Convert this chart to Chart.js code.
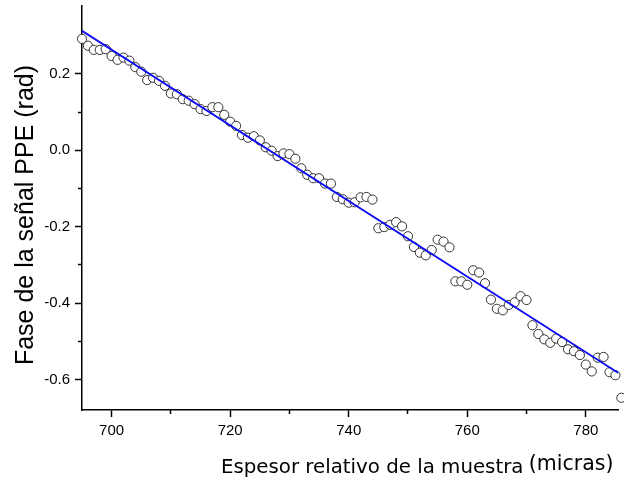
<!DOCTYPE html>
<html>
<head>
<meta charset="utf-8">
<script src="https://cdn.jsdelivr.net/npm/chart.js@4.4.0/dist/chart.umd.min.js"></script>
<style>
  html, body { margin: 0; padding: 0; background: #fff; }
  #wrap { width: 624px; height: 481px; }
</style>
</head>
<body>
<div id="wrap"><canvas id="myChart" width="624" height="481"></canvas></div>
<script>
// espesor relativo (micras), un punto por micra
const espesor = [
  695, 696, 697, 698, 699, 700, 701, 702, 703, 704, 705, 706, 707, 708, 709,
  710, 711, 712, 713, 714, 715, 716, 717, 718, 719, 720, 721, 722, 723, 724,
  725, 726, 727, 728, 729, 730, 731, 732, 733, 734, 735, 736, 737, 738, 739,
  740, 741, 742, 743, 744, 745, 746, 747, 748, 749, 750, 751, 752, 753, 754,
  755, 756, 757, 758, 759, 760, 761, 762, 763, 764, 765, 766, 767, 768, 769,
  770, 771, 772, 773, 774, 775, 776, 777, 778, 779, 780, 781, 782, 783, 784,
  785, 786
];

// fase de la señal PPE medida (rad)
const fase = [
  0.292, 0.274, 0.263, 0.263, 0.265, 0.247, 0.237, 0.243, 0.235, 0.218, 0.206, 0.184, 0.190, 0.182, 0.169,
  0.149, 0.147, 0.134, 0.130, 0.121, 0.108, 0.103, 0.113, 0.113, 0.093, 0.075, 0.064, 0.040, 0.033, 0.037,
  0.026, 0.008, -0.001, -0.015, -0.008, -0.010, -0.022, -0.047, -0.064, -0.073, -0.073, -0.087, -0.087, -0.122, -0.128,
  -0.137, -0.136, -0.123, -0.122, -0.129, -0.204, -0.201, -0.195, -0.188, -0.199, -0.225, -0.253, -0.268, -0.275, -0.261,
  -0.234, -0.239, -0.254, -0.343, -0.343, -0.352, -0.314, -0.320, -0.348, -0.391, -0.415, -0.419, -0.405, -0.398, -0.382,
  -0.392, -0.458, -0.481, -0.495, -0.504, -0.493, -0.502, -0.521, -0.526, -0.536, -0.561, -0.579, -0.543, -0.541, -0.581,
  -0.589, -0.648
];

// recta de ajuste lineal
const ajusteX = [695, 785.5];
const ajusteY = [0.313, -0.583];

// marcas de los ejes
const ticksX = [700, 720, 740, 760, 780];
const ticksXMenor = [710, 730, 750, 770];
const ticksY = [-0.6, -0.4, -0.2, 0.0, 0.2];
const ticksYMenor = [-0.5, -0.3, -0.1, 0.1];

const fuenteTicks = { family: "'Liberation Sans', Arial, sans-serif", size: 15 };

function fijarTicks(valores) {
  return (scale) => {
    scale.ticks = valores.map((v) => ({ value: v }));
  };
}

// tamaño fijo de cada eje, sin el relleno extra que Chart.js deja para las etiquetas
function fijarTamano(prop, valor) {
  return (scale) => {
    scale[prop] = valor;
    scale.paddingTop = 0;
    scale.paddingBottom = 0;
    scale.paddingLeft = 0;
    scale.paddingRight = 0;
  };
}

// titulos de los ejes
const titulos = {
  id: "titulos",
  afterDraw(chart) {
    const { ctx, chartArea } = chart;
    ctx.save();
    ctx.fillStyle = "#000";
    ctx.textBaseline = "alphabetic";
    ctx.textAlign = "right";
    ctx.font = "19.8px 'DejaVu Sans'";
    ctx.fillText("Espesor relativo de la muestra", chartArea.right - 95, chartArea.bottom + 63);
    ctx.font = "20.5px 'DejaVu Sans'";
    ctx.fillText("(micras)", chartArea.right - 5, chartArea.bottom + 59.5);

    ctx.translate(33, (chartArea.top + chartArea.bottom) / 2 + 7);
    ctx.rotate(-Math.PI / 2);
    ctx.textAlign = "center";
    ctx.font = "25px 'Liberation Sans', Arial, sans-serif";
    ctx.fillText("Fase de la señal PPE (rad)", 0, 0);
    ctx.restore();
  },
};

const ctx = document.getElementById("myChart");
new Chart(ctx, {
  type: "scatter",
  data: {
    datasets: [
      {
        type: "line",
        label: "Ajuste",
        data: ajusteX.map((x, i) => ({ x: x, y: ajusteY[i] })),
        borderColor: "#0b0bf5",
        borderWidth: 1.8,
        pointRadius: 0,
        fill: false,
      },
      {
        label: "Fase",
        data: espesor.map((x, i) => ({ x: x, y: fase[i] })),
        pointRadius: 4.6,
        pointBorderWidth: 1,
        pointBorderColor: "#333",
        pointBackgroundColor: "#fff",
        clip: false,
      },
    ],
  },
  options: {
    responsive: false,
    devicePixelRatio: 1,
    animation: false,
    layout: { padding: { top: 6, right: 0, bottom: 0, left: 0 } },
    plugins: {
      legend: { display: false },
      tooltip: { enabled: false },
    },
    scales: {
      x: {
        type: "linear",
        position: "bottom",
        min: 695,
        max: 785.5,
        weight: 1,
        afterBuildTicks: fijarTicks(ticksX),
        afterFit: fijarTamano("height", 71),
        grid: { drawOnChartArea: false, drawTicks: true, tickLength: 7, tickColor: "#000", tickWidth: 1.5 },
        border: { display: true, color: "#000", width: 1.5 },
        ticks: { font: fuenteTicks, color: "#000", padding: 5, maxRotation: 0, autoSkip: false, callback: (v) => v },
      },
      x2: {
        type: "linear",
        position: "bottom",
        min: 695,
        max: 785.5,
        weight: 0,
        afterBuildTicks: fijarTicks(ticksXMenor),
        afterFit: fijarTamano("height", 0),
        grid: { drawOnChartArea: false, drawTicks: true, tickLength: 4, tickColor: "#000", tickWidth: 1.5 },
        border: { display: false },
        ticks: { display: false },
      },
      y: {
        type: "linear",
        position: "left",
        min: -0.68,
        max: 0.378,
        weight: 1,
        afterBuildTicks: fijarTicks(ticksY),
        afterFit: fijarTamano("width", 82),
        grid: { drawOnChartArea: false, drawTicks: true, tickLength: 7, tickColor: "#000", tickWidth: 1.5 },
        border: { display: true, color: "#000", width: 1.5 },
        ticks: {
          font: fuenteTicks,
          color: "#000",
          padding: 5,
          autoSkip: false,
          callback: (v) => (Math.abs(v) < 1e-9 ? 0 : v).toFixed(1),
        },
      },
      y2: {
        type: "linear",
        position: "left",
        min: -0.68,
        max: 0.378,
        weight: 0,
        afterBuildTicks: fijarTicks(ticksYMenor),
        afterFit: fijarTamano("width", 0),
        grid: { drawOnChartArea: false, drawTicks: true, tickLength: 4, tickColor: "#000", tickWidth: 1.5 },
        border: { display: false },
        ticks: { display: false },
      },
    },
  },
  plugins: [titulos],
});
</script>
</body>
</html>
